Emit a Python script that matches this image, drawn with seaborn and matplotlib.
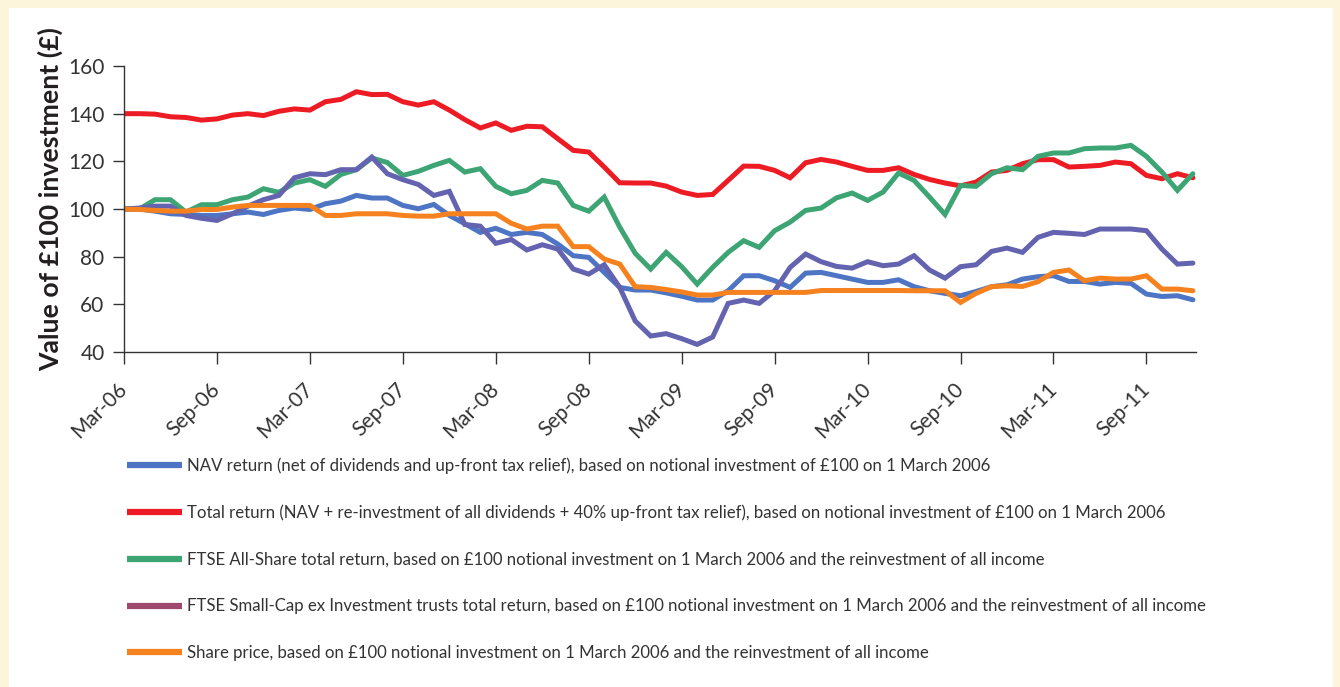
import numpy as np
import pandas as pd
import matplotlib
matplotlib.use('Agg')
import matplotlib.pyplot as plt
import matplotlib.transforms as mtransforms
from matplotlib.lines import Line2D
from matplotlib.patches import Rectangle
import seaborn as sns

# Giá trị (tháng 3/2006 -> tháng 12/2011, theo tháng)
nav_return = [100, 100, 99.1, 98, 97.7, 97.3, 97.3, 98, 98.7, 97.7, 99.4, 100.4, 99.8, 102.2,
              103.3, 105.7, 104.6, 104.6, 101.5, 100.1, 101.9, 97.3, 93.8, 90.2, 91.9, 89.3,
              90.2, 89.3, 85.3, 80.4, 79.7, 73.4, 67.1, 66, 66, 64.8, 63.4, 61.8, 61.8, 65.7,
              72, 72, 69.9, 67.1, 73.1, 73.4, 72, 70.6, 69.2, 69.2, 70.3, 67.4, 65.7, 64.6,
              63.6, 65.4, 67.4, 68.2, 70.6, 71.6, 72, 69.6, 69.6, 68.5, 69.2, 68.8, 64.3,
              63.3, 63.6, 61.9]
total_return = [140, 140, 139.8, 138.7, 138.4, 137.3, 137.8, 139.4, 140, 139.2, 141, 142, 141.5,
                145, 146, 149.2, 148, 148.1, 145, 143.6, 145, 141.5, 137.5, 134, 136.1, 133,
                134.7, 134.5, 129.5, 124.6, 123.9, 117.6, 111, 110.9, 110.9, 109.6, 107.1,
                105.7, 106.1, 112, 118, 117.9, 116.2, 113.1, 119.4, 120.8, 119.7, 117.9, 116.2,
                116.2, 117.3, 114.5, 112.4, 110.9, 109.7, 111.3, 115.5, 116.2, 119, 120.7,
                120.7, 117.6, 117.9, 118.3, 119.7, 119, 114.1, 112.7, 114.8, 113.1]
ftse_all_share = [100, 100, 103.9, 103.9, 98.7, 101.8, 101.8, 103.9, 105, 108.5, 107, 110.9,
                  112.3, 109.5, 114.5, 116.5, 121.4, 119.5, 114.1, 115.8, 118.3, 120.4, 115.5,
                  116.9, 109.5, 106.4, 107.8, 112, 110.9, 101.5, 99.1, 105, 92.4, 81.4, 74.8,
                  81.8, 75.8, 68.5, 75.5, 81.8, 86.7, 83.9, 90.9, 94.5, 99.4, 100.4, 104.7,
                  106.7, 103.6, 107.1, 115.1, 112, 105, 97.7, 109.9, 109.5, 114.8, 117.3, 116.5,
                  122.1, 123.5, 123.5, 125.3, 125.6, 125.6, 126.7, 122.1, 115.5, 107.8, 114.8]
ftse_small_cap = [100, 100.4, 101.2, 101.2, 97.3, 96.1, 95.2, 98, 101.2, 103.9, 105.7, 113.1,
                  114.8, 114.4, 116.5, 116.5, 121.8, 114.8, 112.3, 110.3, 105.7, 107.4, 93.5,
                  92.8, 85.6, 87.2, 82.8, 85, 83.2, 74.8, 72.7, 76.6, 67.1, 53, 46.7, 47.7,
                  45.6, 43.2, 46.3, 60.4, 61.8, 60.4, 65.7, 75.5, 81.1, 77.9, 75.9, 75.2, 77.9,
                  76.2, 76.9, 80.4, 74.4, 71, 75.8, 76.6, 82.2, 83.6, 81.8, 88.1, 90.2, 89.8,
                  89.3, 91.6, 91.6, 91.6, 90.9, 83.2, 76.9, 77.3]
share_price = [100, 99.8, 99.4, 99.1, 99.1, 99.8, 99.8, 100.8, 101.5, 101.5, 101.5, 101.5, 101.5,
               97.3, 97.3, 98, 98, 98, 97.3, 97, 97, 98, 98, 98, 98, 94, 91.6, 92.8, 92.8,
               84.2, 84.2, 79, 76.9, 67.4, 67.1, 66.2, 65.2, 63.9, 63.9, 65, 65, 65, 65, 65,
               65, 65.8, 65.8, 65.8, 65.8, 65.8, 65.8, 65.7, 65.7, 65.7, 60.8, 64.6, 67.4,
               67.8, 67.5, 69.5, 73.4, 74.4, 69.9, 71, 70.6, 70.6, 72, 66.4, 66.4, 65.7]

tick_labels = ['Mar-06', 'Sep-06', 'Mar-07', 'Sep-07', 'Mar-08', 'Sep-08',
               'Mar-09', 'Sep-09', 'Mar-10', 'Sep-10', 'Mar-11', 'Sep-11']

legend_labels = [
    'NAV return (net of dividends and up-front tax relief), based on notional investment of £100 on 1 March 2006',
    'Total return (NAV + re-investment of all dividends + 40% up-front tax relief), based on notional investment of £100 on 1 March 2006',
    'FTSE All-Share total return, based on £100 notional investment on 1 March 2006 and the reinvestment of all income',
    'FTSE Small-Cap ex Investment trusts total return, based on £100 notional investment on 1 March 2006 and the reinvestment of all income',
    'Share price, based on £100 notional investment on 1 March 2006 and the reinvestment of all income',
]

series = [nav_return, total_return, ftse_all_share, ftse_small_cap, share_price]
line_colors = ['#4d75c3', '#ed1c24', '#3da474', '#6463b0', '#f6821f']
legend_colors = ['#4d75c3', '#ed1c24', '#3da474', '#a0496f', '#f6821f']

sns.set_style('ticks')
plt.rcParams['font.family'] = ['Lato', 'DejaVu Sans']

fig = plt.figure(figsize=(13.4, 6.87), dpi=100, facecolor='#fcf5dc')
fig.patches.append(Rectangle((9 / 1340, 0), (1333 - 9) / 1340, 1 - 8 / 687,
                             transform=fig.transFigure, facecolor='white',
                             edgecolor='none', zorder=-10))

ax = fig.add_axes([124 / 1340, 1 - 352 / 687, (1196 - 124) / 1340, (352 - 66) / 687])
ax.set_facecolor('none')
ax.set_zorder(1)

months = np.arange(len(nav_return))
for vals, col in zip(series, line_colors):
    df = pd.DataFrame({'month': months, 'value': vals})
    sns.lineplot(data=df, x='month', y='value', ax=ax, color=col, linewidth=3.6,
                 solid_joinstyle='miter')

ax.set_xlim(0, 69.2)
ax.set_ylim(40, 160)
ax.set_yticks(np.arange(40, 161, 20))
ax.set_xticks(np.arange(0, len(tick_labels) * 6, 6))
ax.set_xticklabels(tick_labels, rotation=45, ha='right', va='center',
                   rotation_mode='anchor', fontsize=15, color='#333333')
offset = mtransforms.ScaledTranslation(15 / 100, 0, fig.dpi_scale_trans)
for lbl in ax.get_xticklabels():
    lbl.set_transform(lbl.get_transform() + offset)
ax.tick_params(axis='x', length=8.5, width=1, color='#333333', pad=16)
ax.tick_params(axis='y', length=8, width=1, color='#333333', pad=6,
               labelsize=15, labelcolor='#333333')
ax.set_xlabel('')
ax.set_ylabel('Value of £100 investment (£)', fontsize=19.2, fontweight='bold',
              color='#231f20')
ax.yaxis.set_label_coords(-0.057, 0.535)
for s in ['top', 'right']:
    ax.spines[s].set_visible(False)
for s in ['left', 'bottom']:
    ax.spines[s].set_color('#333333')
    ax.spines[s].set_linewidth(1)

handles = [Line2D([0], [0], color=c, linewidth=4.5, solid_capstyle='butt')
           for c in legend_colors]
fig.legend(handles, legend_labels, loc='upper left',
           bbox_to_anchor=(127 / 1340, 1 - 457 / 687), frameon=False,
           fontsize=12.1, labelcolor='#333333', handlelength=3.3, handletextpad=0.3,
           labelspacing=1.83, borderpad=0, borderaxespad=0)

fig.savefig('out.png', dpi=100, facecolor=fig.get_facecolor())
